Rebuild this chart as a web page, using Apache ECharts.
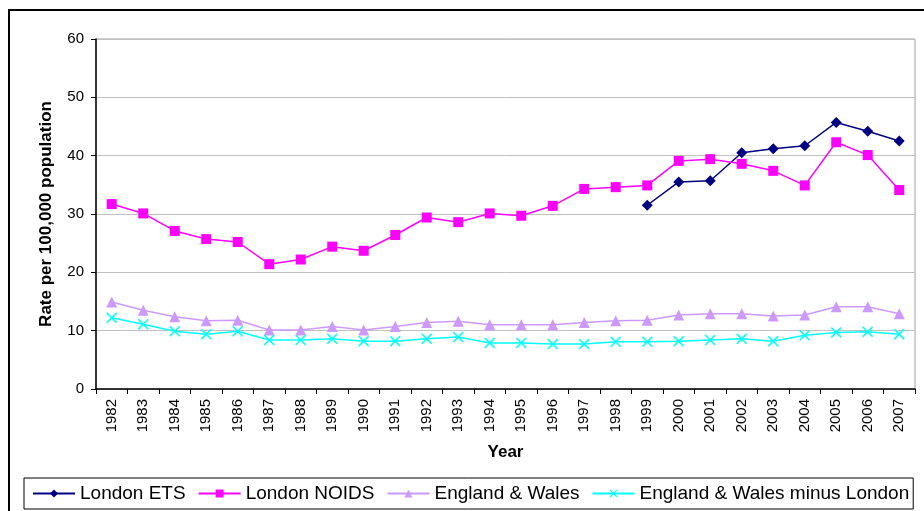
<!DOCTYPE html>
<html><head><meta charset="utf-8">
<script src="https://cdn.jsdelivr.net/npm/echarts@6/dist/echarts.min.js"></script>
<style>html,body{margin:0;padding:0;background:#fff}#c{width:924px;height:511px}</style>
</head><body><div id="c"></div>
<script>
const years = ['1982','1983','1984','1985','1986','1987','1988','1989','1990','1991','1992','1993','1994','1995','1996','1997','1998','1999','2000','2001','2002','2003','2004','2005','2006','2007'];
const londonETS = [null,null,null,null,null,null,null,null,null,null,null,null,null,null,null,null,null,31.5,35.5,35.7,40.5,41.2,41.7,45.7,44.2,42.5];
const londonNOIDS = [31.7,30.1,27.1,25.7,25.2,21.4,22.2,24.4,23.7,26.4,29.4,28.6,30.1,29.7,31.4,34.3,34.6,34.9,39.1,39.4,38.6,37.4,34.9,42.3,40.1,34.1];
const englandWales = [14.9,13.5,12.4,11.7,11.8,10.1,10.1,10.7,10.1,10.7,11.4,11.6,11.0,11.0,11.0,11.4,11.7,11.8,12.7,12.9,12.9,12.5,12.7,14.1,14.1,12.9];
const ewMinusLondon = [12.2,11.1,9.9,9.4,9.9,8.4,8.4,8.6,8.2,8.2,8.6,8.9,7.9,7.9,7.7,7.7,8.1,8.1,8.2,8.4,8.6,8.2,9.2,9.7,9.8,9.4];
const yTicks = {min:0, max:60, interval:10};

const font = 'Liberation Sans, Arial, sans-serif';
const xPath = 'path://M0,1 L1,0 L5,4 L9,0 L10,1 L6,5 L10,9 L9,10 L5,6 L1,10 L0,9 L4,5 Z';
const chart = echarts.init(document.getElementById('c'), null, {renderer:'canvas'});
chart.setOption({
  animation:false,
  backgroundColor:'#fff',
  textStyle:{fontFamily:font},
  graphic:[{type:'rect', shape:{x:9,y:10,width:930,height:520}, style:{fill:'none',stroke:'#000',lineWidth:2}, silent:true}],
  grid:{left:96, right:9, top:39, bottom:122, show:true, borderColor:'#a0a0a0', borderWidth:1},
  legend:{
    bottom:2, left:24,
    itemWidth:42, itemHeight:10, itemGap:12,
    padding:[6,4,6,8],
    borderColor:'#000', borderWidth:1,
    textStyle:{fontFamily:font, fontSize:19, color:'#000'},
    data:['London ETS','London NOIDS','England & Wales','England & Wales minus London']
  },
  xAxis:{
    type:'category', data:years, boundaryGap:true,
    name:'Year', nameLocation:'middle', nameGap:55,
    nameTextStyle:{fontFamily:font, fontSize:17, fontWeight:'bold', color:'#000'},
    axisLine:{lineStyle:{color:'#000', width:1.5}},
    axisTick:{show:true, alignWithLabel:false, length:5, lineStyle:{color:'#000'}},
    axisLabel:{rotate:90, fontSize:15, color:'#000', margin:10, interval:0, fontFamily:font},
    splitLine:{show:false}
  },
  yAxis:{
    type:'value', min:yTicks.min, max:yTicks.max, interval:yTicks.interval,
    name:'Rate per 100,000 population', nameLocation:'middle', nameGap:41,
    nameTextStyle:{fontFamily:font, fontSize:17, fontWeight:'bold', color:'#000'},
    axisLine:{show:true, lineStyle:{color:'#000', width:1.5}},
    axisTick:{show:true, length:5, lineStyle:{color:'#000'}},
    axisLabel:{fontSize:15, color:'#000', margin:12, fontFamily:font},
    splitLine:{lineStyle:{color:'#c0c0c0', width:1}}
  },
  series:[
    {name:'London ETS', type:'line', data:londonETS, symbol:'diamond', symbolSize:11, connectNulls:false,
     itemStyle:{color:'#000080'}, lineStyle:{color:'#000080', width:1.5}},
    {name:'London NOIDS', type:'line', data:londonNOIDS, symbol:'rect', symbolSize:10,
     itemStyle:{color:'#FF00FF'}, lineStyle:{color:'#FF00FF', width:1.5}},
    {name:'England & Wales', type:'line', data:englandWales, symbol:'triangle', symbolSize:11,
     itemStyle:{color:'#CC99FF'}, lineStyle:{color:'#CC99FF', width:1.5}},
    {name:'England & Wales minus London', type:'line', data:ewMinusLondon, symbol:xPath, symbolSize:11,
     itemStyle:{color:'#00FFFF'}, lineStyle:{color:'#00FFFF', width:1.5}}
  ]
});
</script></body></html>
